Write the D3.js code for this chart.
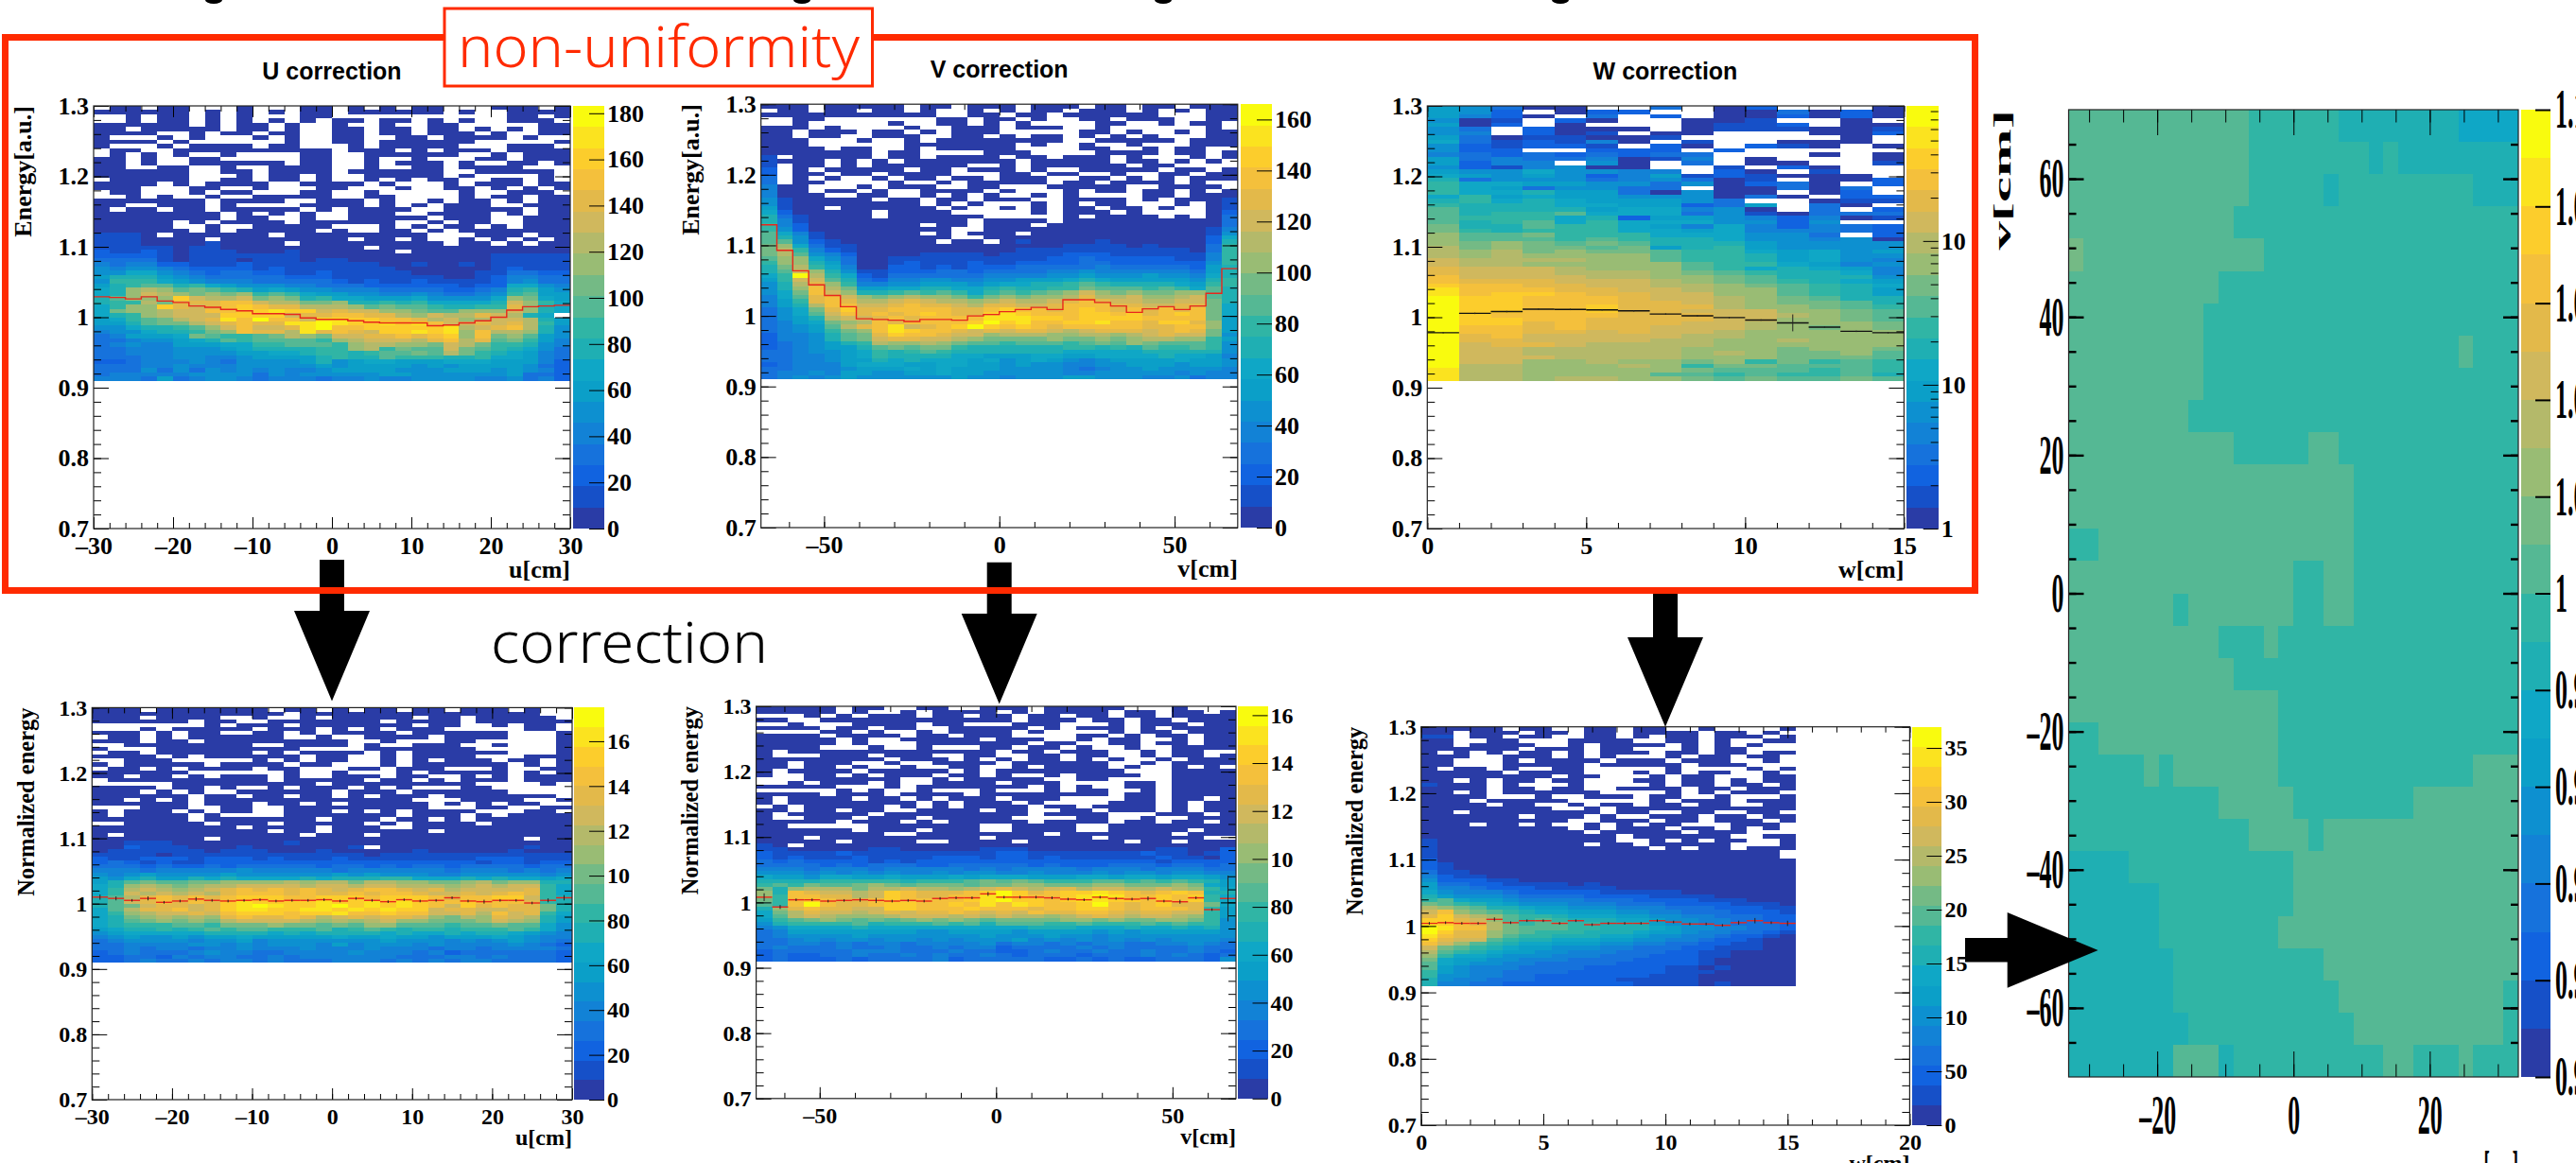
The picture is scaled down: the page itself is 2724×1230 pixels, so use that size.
<!DOCTYPE html>
<html lang="en">
  <head>
    <meta charset="utf-8" />
    <title>Non-uniformity correction</title>
    <script src="https://cdnjs.cloudflare.com/ajax/libs/d3/7.8.5/d3.min.js"></script>
    <style type="text/css">
      html, body { margin: 0; padding: 0; background: #fff; overflow: hidden; }
      svg { display: block; }
      .cell { shape-rendering: crispEdges; }
      .axis line { stroke: #000; }
      .axis text { font-family: "Liberation Serif", serif; font-weight: bold; fill: #000; }
      .axisTitle { font-family: "Liberation Serif", serif; font-weight: bold; fill: #000; }
      .panelTitle { font-family: "Liberation Sans", sans-serif; font-weight: bold; fill: #000; }
      .note { font-family: "Noto Sans", sans-serif; font-weight: 300; }
    </style>
  </head>

  <body>
    <div id="chart"></div>

    <script>
      // Bands of the colour bar, lowest first. Cells below store a band number in base 20, '.' is an empty bin.
      const palette = ['#2a3ca6', '#1650c8', '#1163e0', '#1672dc', '#1282d6', '#0d90d0', '#0b9fc8', '#0fa7c6', '#1fafb3', '#30b5a5',
        '#55b894', '#74ba85', '#99bc74', '#b4b96a', '#d0b85d', '#e3b94a', '#f4c03c', '#fccd2c', '#fbe31f', '#f9fb0e'];

      const uRows = [
        ".00.00...0 ...00.0.0. 00...000.0", "000000.0.0 .0.00.0000 00.0..0000", "..0.00.0.0 ...00..... ......00.0",
        "..0.00.0.0 .0.0.00.00 .0.0..000.", "000000.0.0 0.0..0..0. .00.....00", "00.00000.0 0.0..00.00 .00.0.0.00",
        "0000..0.00 .00..00.00 .000.0..00", "0...0.0... 0.0..00..0 0.0000.0..", "0000.0.... ..0..00.00 0000.....0",
        "0...0.0000 .00...0.00 000...000.", ".00..00000 00000.000. 0.000.0000", ".0.0.0..0. ...00..000 000..0.000",
        "00.0..00.. ...00..0.. 0...00.000", "00.0..0000 00.00..0.0 00.0..00.0", "00..00..0. .0000..0.. 00.0000...",
        "000000..00 .0000.0000 00..00000.", "000000...0 .00.0..000 00.0....0.", ".00000..00 .00.0..0.0 .00..00.0.",
        "0000.0.000 0..0000.0. ..0.000.00", "000...00.. 0...00...0 ..00.0.0.0", ".00...0.00 ...00..0.. ...0..000.",
        "..0.0..0.. 00000..00. ...0.00.00", "0000000.00 00..000.0. .0.00.0.00", "00..000.0. ...0000.0. 0.000..000",
        "0.00.00.00 000.0.0000 ..00000.00", "00000000.0 .0.0..000. .0000.0.00", "00000000.0 0..0..0000 0.000..000",
        "00000.0.00 00.000000. .0.00..000", "00000..0.. 00000...0. 0.00.0.000", "000000.0.0 0000.0..00 .0.0000000",
        "1110.00000 0.00000000 0...000.00", "1110000.00 000000.00. 0..0.0.0.0", "1110000100 00.0000000 00.00.0.00",
        "1111101100 0000000.00 0000000000", "2112101110 001000000. 0000000000", "2222101111 1110000000 0000011111",
        "3333101110 1110110000 0000011111", "4344221112 1111111100 1001011111", "5455432222 1211111110 0000012111",
        "5577543233 2211211111 0000113322", "6888654333 3322211111 1100124433", "5999765444 3333321211 2111124533",
        "689aa89765 5544333222 2221227754", "78cdcaba98 6765544433 3322348965", "78cedcbcbc 9a97665544 5433459a66",
        "8accchedde bcb8977666 755557cb76", "899dbfffgg eddbbc8898 977778ec97", "79cchfefgh gffdddcaba a98899fc87",
        "7bccdeeggh hihhefeecc baacccec87", "789cdeeehh hheffggff dceddfed87", "679abdefig jggeiihhgg fdecdeed86",
        "668abbdefg ffiijihhih igeefefd96", "557889aceg eefijgghhh hhidefgd85", "4557889bcg ffdifgfehh ihicgddc85",
        "346667ba99 abdcbeeffg fghcgbca65", "33455678a9 aaaa9cdeee dfgdfab964", "3454466677 99aaa9cddc cbedb99854",
        "3344455567 888899cd9b aaeba98753", "3344455556 67789989aa badb987643", "3334455445 66668988a9 9988977643",
        "2234445435 5556856776 6677766642", "3334454445 5555656666 5656666532", "3335353545 4544566665 5566656542",
        "3444445555 3545555566 5555556332", "4443634554 3444344544 5555445342"
      ];
      const vRows = [
        "000.00000. 00.000.000 .00.00.000", ".00.00.00. 0..0.0.00. 000.0.0.00", "0000000000 0..00.00.0 00000...00",
        "..00...... .00.00.0.. 00.000..00", "..0.....0. .00.0.0... .00..0.00.", "000.0....0 ..000.000. .0......0.",
        "00.000.00. 0.000..... 00.0..0.00", "00.00..000 ..00.0.00. 0.0.0...00", "000...0..0 .00000000. .00000.000",
        "000......0 000000.0.. 0..0...000", "0000.00..0 .00000.... 00..0.00..", "0000000.00 ....000... .0000.00.0",
        "1.00000.00 .0000.00.0 00.0...0.0", "1000.0.0.0 000000.000 00.00.0.0.", "1.00.0.000 000..0.000 000.00....",
        "2.0.00000. 00.000.0.. 00000.00.0", "2.00.00.00 00...00.00 ..0..00.00", "3.0.0..0.0 0.00.000.. 00.0.0.000",
        "3.00....0. .0.00000.0 0.0000.0..", "400...0.00 0..00...00 000..0000.", "400.00.0.. 0000.0...0 .00.00.0.0",
        "4000..00.. 0.0.0..0.0 ....00.000", "5100000.00 .00.000..0 000.0.0001", "5100000000 .0.0...0.0 .00...0.01",
        "6100.00000 0.0..0.0.0 0.00.0..01", "7200000.00 00.....0.0 00.0....02", "8310000.00 0000.....0 .0000.0.03",
        "8410000000 000.0000.0 0000000003", "9420000000 .00.000.00 0000000003", "9520000000 00..000000 0000000014",
        "a741000000 .0.000.000 0000000015", "a851000000 00..000000 0000000027", "aa52100000 0.00.01000 0100000028",
        "bc73110000 0000000001 1110100039", "bd94210000 0000001111 1111111039", "bda5420000 1111011112 2211111149",
        "acc7530011 1111111122 3222221149", "9cc8630012 1112112222 3322222259", "8bd9740022 1212223333 3433333268",
        "8aec851122 2332333344 5444444368", "79jd972133 3333444455 6555655478", "69eea83244 5544556667 8766666589",
        "58dfc94455 6665677889 a988887699", "58cgdb6677 8877898899 baaa9a97a8", "57bgec889a 9a979a9abc ecbcbbcca8",
        "47afgecbcd ccb9bcbccd fddeccdea8", "469fgfddef eddcdeddef gfeeddeeb8", "468dggeefg ffedffeefg ggffeeffb7",
        "357bfhffgg ggffghggfg hgfgfgfgb7", "357aegfgfg hgffhihggg hhghfghgb7", "3568deefgf ggggiiihhg hhhhggggb6",
        "3467bcdgfg ggghjhiggh higgfhhfc6", "3456adfgie fghjhghgfg ggggffggc6", "34569bcgih ggfefeffed efffefgfb6",
        "24458abfhg gfeecdddcc ddcdefeeb5", "24458abeff eedcbbbbcb bcbcddcc96", "2345689dcc dcbaa9aaa9 abacbaaa95",
        "2345668aba bb98888889 9898a99a95", "3345567989 a988888887 7777888885", "3344567988 8877666776 6777787764",
        "3344566878 7776756765 4566667665", "2344467776 6776656554 4556665665", "3344456667 6766655554 3455655554",
        "3445466556 6766555554 4555554544", "3454565555 5565545556 6555445344"
      ];
      const wRows = [
        "65300 ..3.0 2...0", "652.0 22..0 03020", "6420. 3.2.0 02020", "501.2 0..00 1..0.", "602.0 ...01 12.00",
        "53.20 00.01 11001", "54.20 1.00. ..002", "63011 001.. ...0.", "73121 40.1. .000.", "52122 1.20. 210.0",
        "522.. 222.2 .....", "43232 3233. ..0.0", "63433 4014. 0...0", "6244. 50.3. 00..1", "52145 00..1 .20..",
        "65575 544.2 0.1..", "76565 24612 1000.", "83555 34530 1.002", "97766 55350 230.2", "97635 533.0 0303.",
        "97786 63050 0.02.", "79676 65550 30.22", "89787 66653 ..011", "98887 76623 6.30.", "a8888 67745 0.3.2",
        "a899a 77735 10333", "a9997 82665 42401", "a89a7 97775 525..", "b88a9 97647 42432", "b9899 97767 44432",
        "caab9 99777 553.2", "caaa9 a9887 55450", "cbcba ba888 65555", "dbcbb ab689 65555", "dcdbc bba99 76756",
        "dcdcc cca99 86755", "edddd cca99 86754", "eddcc ccca9 97645", "feeed ccca9 78764", "feeed ddcba 98874",
        "geeee ddccb a8885", "gfffe eedcb a9876", "hggff eeddc ba987", "igggf feedc ca986", "ighhg ffeec ca986",
        "jhhgg gfeed cba88", "jhhgg gffed cbba8", "jhhgg hfffd ccba9", "jhhgg hffee eccba", "jhggg gfffe edcba",
        "jhhgg ffffe eccba", "jhhfg fffee dcccb", "jggfg ffeee dcbcb", "jggff efeed ccccc", "jfgee eeedd ccccc",
        "jffee eeddc cdccc", "jeffe ddddc ccccc", "jeedd dddcc cbccb", "jeedd dddcd cbbca", "jeeed dddcc cbbba",
        "jeecc dccbc 9b9a9", "jddcc cdc9b baaa9", "iddcc cccba aa9a9", "iddcc ccaa9 a99a8", "iddcd dccba baaba"
      ];
      const uNormRows = [
        "000.000000 0.00.0.00. 00.000.0..", "0000000000 00.0000000 00000000..", "000.0000.. 0..0.00000 .00.00000.",
        "000000.00. .0000000.0 000.000000", ".......0.0 00.0000000 .00..0.00.", "...0.00000 .000.0.0.0 00.....00.",
        "000.0.00.. 00.0.0000. 000000...0", ".00.0.0000 00..0..000 0.0000...0", "000.00.000 000000..0. ..00.....0",
        "..00000000 ..0000.0.. 000..0...0", "0...000000 000....000 0000.....0", ".00.000000 .0.0000.0. 000000...0",
        "0000.0.000 000.00..0. 0000...000", "..000..... 0.0.00..0. 0.000.00.0", "0.00000.00 00.00...0. 000000.0.0",
        ".00.0.0000 .00...00.0 00...0..00", "000000.... ..0..0...0 .00000.0.0", "00.00.0.00 0.0..000.0 0..0.0.000",
        ".000000000 0.00000.00 .0.000.000", ".....00000 0000.00000 0000....0.", "0000.00.0. .0.000.0.0 ...00.....",
        "000.0.0..0 00000.000. 000000....", "000000.00. 00.00.0.00 0.0000000.", "00.0.0.000 0000000000 ...0000..0",
        "000000.000 .00.0.0000 0.0.0.00..", "...000..00 ..00000000 0...00..00", "0.000.0.00 ..000.0.0. 0000...00.",
        "0.0000.0.. ..0000000. 000.0.0000", "000000.000 0000.000.0 0.0.000000", "..00000.00 0.00000.0. 0000.00000",
        "000000000. 0000.000.. 0000000000", "0000000000 0.00.00000 0.00000000", "0.00000000 000.000.00 0000000000",
        "0000000.00 0000000000 0000000.00", "0011100000 0010000000 0000000000", "0021110001 0000001.00 0000000100",
        "0111111011 1000100000 1000001000", "1111011111 1111111011 1111111111", "2112221222 1211121111 1111222111",
        "2321211222 2222222222 2222122122", "3332322323 3333233232 3323333233", "4443444445 4444434444 4434443434",
        "5456555565 5555565655 5445555545", "6578668787 7778788899 7778787767", "68abaabbcc ccdcddbddc cbbcdbcc88",
        "78cdcbcdde eeedeedeed ddcdedee97", "79dedcdefg fgfgfefggf efdeeeef97", "79edededfg ggfgffgfgg feefefgf97",
        "8adfgfgfgh hhgghhhghh hgfgghhe98", "8aefgfgfhi hhhhihhihi hgghgggf98", "8abeffefhi jihhijhihi hgehfgffb8",
        "7adffgefhi ihhiihihih heffeeffb8", "79cdeefegh hhghhigghg geefdgef97", "78bcdcdcfg ffgfdefeff ecbdcfed86",
        "78abcbcbde eeedcdcdec cbbbcedc86", "78999aa9bb bcbbabacca aa9aabaa75", "6788989a9a a999a89a98 998999a975",
        "5677777888 8787888878 7787887654", "4565565667 6666676676 6566676544", "3455554556 4555555565 5545456543",
        "3344445545 4555464555 4544445432", "3343443445 4445444544 4344344443", "2343334544 3344445444 3423333332",
        "2233243443 3434444443 3344343332", "2234334344 3433344434 3434433332"
      ];
      const vNormRows = [
        "00000.00.. 00..000.00 000...0...", "00000.0..0 .0000.0.00 00.00.00.0", "...0.0.000 .00.00.00. 00.00.0000",
        "00..000000 000000.000 .00.00.000", "..0...0000 .00...000. ..0.000.00", "0000.00.00 ..00000.0. 000.0.0000",
        "....00.0.. 0.0000.0.. ..0.00.000", "0000.0000. 00.000.... 00.0.00.00", "00000.0..0 0000.000.. 0.00..0.00",
        "00000.0... 0000000.00 ..00.00.00", "0000...0.. 0...00.00. 0..0..0000", "0.00000000 00000.00.0 00..0.00..",
        "0...000.00 0..00..00. 00..0.00.0", "00000000.0 00.0.0.00. 0.0..0.000", "00.000..0. .0000.0000 00..0.0000",
        "00.00.0..0 ..00..0.00 00.0..0.0.", "0.0000.000 00.0.00000 000...0000", "0..00.0.00 0.00.0..0. 0000..0000",
        "...000000. .0.00000.. 00....0000", "..0.000.0. .0000.000. ...00.0000", "00000...0. 0000000.0. 0..00.0000",
        ".....0.0.. 0...0...0. 00..0.0000", "0000.000.0 000.000000 00.00.0000", "0.0000.00. 0.000.000. ...00.00.0",
        "0.00000000 .0.000.0.. ..000.0.00", ".0.00000.0 .0.0000.00 .0000.0.00", "00.00.00.. 0000.00..0 0.000.0.00",
        "0.00000.00 0000000.00 00...000.0", "0..000.000 .00000.... 00..0..000", "00000.000. 0.00000.00 00.00.00.0",
        "00.....000 0000..0000 ..00000000", "000000.000 .000..0000 ..00000.00", "00000000.. 00000000.0 000000.000",
        "000.000000 0000.00000 0.000000..", "00000.0000 ..0000.000 000.00.000", "10.0000000 0000000000 0000000000",
        "1100000110 0000111000 0000011002", "2111121111 1111122111 1111211012", "2121112111 1222122121 1111121102",
        "3232222121 2222222222 2222212222", "3333232333 2233333232 2233323323", "4443444344 4443434444 3444344433",
        "5554545454 4545544544 4545545544", "7665776676 6676777666 7767767765", "8888999998 999ababa99 9aa9a9a986",
        "9a9baabcba bbbabbccbb bccbbbcb76", "b8cdddbdde ddcdefedef deeddedc97", "c8gfeedehg fffghjhfgh hihgfghg88",
        "c9ggffdehg ffggijhggh ijigghgh97", "b9ghgffghg ggghijhhgh iihhghgh97", "a9gjgffghh gghgigihgg hjgfghffb7",
        "8cfgffeehh ggghgggfgg hhgfgggf96", "7bdfeedefe ffgfefegff ggfeffee96", "7adedcccde eedededdcd efedeedc96",
        "69abcbabab cbcbabbbbc cbcbbccb95", "589999a899 9a9a8aaa99 a999a9a995", "4577778777 7777777888 7778778785",
        "3466666666 5566665666 6565666665", "3455556555 5555655565 5455555555", "3345455455 4545556454 5454545554",
        "3344343443 4444534434 3443344543", "3433343343 3434423333 4343333433", "2333334443 3343322343 3433433432",
        "2322334334 3433432333 2333434323", "2322232333 3423333322 3232233325"
      ];
      const wNormRows = [
        "00000.00.. 00.00..0.. ..0", "00.000.00. 00.0000.00 .0.", "11.00.00.. 00.0.00.00 0.0", "00..00...0 000..00.0. .00",
        "00.0000..0 .0000.0.0. 0..", "000000.000 .00...0.00 ...", "0.0.0.00.0 .000.00.00 .00", "000..000.0 .0...0.00. 00.",
        "00...0.000 0.000.000. .0.", "00...00000 .00000.000 ...", "0.00.0..00 .....0.... 0.0", "00000.0000 ...0.0.00. .0.",
        "00000000.0 0...0.00.. .00", "00.0.00.00 ...00.00.0 .00", "1000.0...0 ....0.00.0 0.0", "0000.00.00 ..0000.00. 000",
        "00.0.00000 0....0.0.0 00.", "0000...0.. 000.00..0. ..0", "000.00000. ....0.000. 000", "0000.00..0 .00.00.00. .00",
        "00000000.. 0.00000000 000", "00.0000000 0.00..00.. 00.", "000000.000 .0..000.00 .00", "000000000. .000.00.00 0.0",
        "000.00.0.. 0.0.00...0 00.", "000000000. 0.000.00.0 .0.", "0000000000 .00000.000 ...", "0000000000 00.000000. .00",
        "1000000000 00..0.0.00 ..0", "1000000000 .00.00000. ..0", "1000000000 0000.0.00. 000", "1000000000 0000000000 00.",
        "1000000000 0000000000 00.", "2000000000 0000000000 000", "2100000000 0000000000 000", "2100000000 0000000000 000",
        "3110000000 0000000000 000", "4211000000 0000000000 000", "5222110000 0000000000 000", "6332211110 1000000000 000",
        "6443222111 1100000000 000", "7544432222 2111110000 000", "8655543333 2222111100 000", "9a76654444 3332222111 000",
        "ba98765554 4433322221 110", "dcba887665 5544433322 211", "egcba98776 6655443332 221", "fhedca9987 7766554433 322",
        "hhfeca9a98 8877655443 322", "ihgfdb9aa9 9888655443 332", "jiggdbaaa9 9888765544 332", "jhffcba999 8887665443 321",
        "igffca9988 8776554432 210", "hfeea98877 7665544322 100", "geca987766 6554433221 100", "eba9876655 5443332211 100",
        "da98766554 4433322110 000", "c977655544 4333222110 000", "b766554443 3332222100 000", "a765544333 3322222100 000",
        "a654443333 2222211010 000", "9654433332 2222211100 000", "9554433222 2222111000 000", "8544333222 2211111000 000",
        "8443322222 2221111010 000"
      ];
      const mapRows = [
        "aaaaaaaaaaaa 999999 88888888 7777", "aaaaaaaaaaaa 99999999 8 9 88888888", "aaaaaaaaaaaa 99999 8 999999999 888",
        "aaaaaaaaaaa 9999999999999999999", "b aaaaaaaaaaaa 99999999999999999", "aaaaaaaaaa 99999999999999999999",
        "aaaaaaaaa 999999999999999999999", "aaaaaaaaa 99999999999999999 a 999", "aaaaaaaaa 999999999999999999999",
        "aaaaaaaa 9999999999999999999999", "aaaaaaaaaaa 99999 aa 999999999999", "aaaaaaaaaaaaaaaaaaa 99999999999",
        "aaaaaaaaaaaaaaaaaaa 99999999999", "99 aaaaaaaaaaaaaaaaa 99999999999", "aaaaaaaaaaaaaaa 99 aa 99999999999",
        "aaaaaaa 9 aaaaaaa 99 aa 99999999999", "aaaaaaaaaa 999 a 9999999999999999", "aaaaaaaaaaa 9999999999999999999",
        "aaaaaaaaaaaaaa 9999999999999999", "99 aaaaaaaaaaaa 9999999999999999", "99999 a 9 aaaaaaa 9999999999999 aaa",
        "9999999999 aaaaa 99999999 aaaaaaa", "999999999999 aaaa 9 aaaaaaaaaaaaa", "8888 99999999999 aaaaaaaaaaaaaaa",
        "888888 999999999 aaaaaaaaaaaaaaa", "888888 99999999 aaaaaaaaaaaaaaaa", "8888888 9999999999 aaaaaaaaaaaaa",
        "8888888 99999999999 aaaaaaaaaaa 9", "88888888 99999999999 aaaaaaaaaa 9", "8888888 aaa 8 9999999999 aa 999 a 999"
      ];

      // Mean energy in each bin.
      const uProfile = [1.029, 1.028, 1.026, 1.029, 1.023, 1.021, 1.016, 1.014, 1.011, 1.009, 1.005, 1.005, 1.004, 0.999, 0.997, 0.997, 0.995, 0.993, 0.992, 0.992, 0.992, 0.988, 0.989, 0.992, 0.995, 1.000, 1.010, 1.015, 1.016, 1.017];
      const vProfile = [1.129, 1.093, 1.064, 1.044, 1.029, 1.013, 0.996, 0.995, 0.994, 0.992, 0.995, 0.995, 0.994, 1.000, 1.002, 1.006, 1.009, 1.012, 1.009, 1.023, 1.023, 1.019, 1.014, 1.005, 1.010, 1.013, 1.009, 1.014, 1.032, 1.067];
      const wProfile = [0.978, 1.0055, 1.008, 1.0115, 1.011, 1.0105, 1.009, 1.0045, 1.002, 0.9995, 0.996, 0.992, 0.986, 0.980, 0.978];
      const wErrors = [0.001, 0.001, 0.001, 0.001, 0.001, 0.001, 0.001, 0.001, 0.001, 0.001, 0.001, 0.012, 0.001, 0.001, 0.001];
      const uNormProfile = [1.010, 1.008, 1.005, 1.008, 1.002, 1.004, 1.007, 1.005, 1.004, 1.005, 1.006, 1.004, 1.005, 1.005, 1.006, 1.004, 1.008, 1.005, 1.003, 1.006, 1.004, 1.005, 1.009, 1.004, 1.003, 1.005, 1.005, 1.001, 1.005, 1.009];
      const uNormErrors = [0.004, 0.003, 0.002, 0.003, 0.002, 0.002, 0.003, 0.002, 0.002, 0.002, 0.002, 0.002, 0.002, 0.002, 0.002, 0.002, 0.002, 0.002, 0.002, 0.002, 0.002, 0.002, 0.002, 0.002, 0.003, 0.002, 0.002, 0.002, 0.003, 0.004];
      const vNormProfile = [1.008, 0.993, 1.004, 1.004, 1.002, 1.003, 1.004, 1.003, 1.002, 1.003, 1.002, 1.006, 1.007, 1.007, 1.013, 1.008, 1.008, 1.008, 1.007, 1.005, 1.004, 1.008, 1.006, 1.005, 1.006, 1.002, 1.001, 1.007, 0.989, 1.006];
      const vNormErrors = [0.006, 0.003, 0.002, 0.002, 0.002, 0.002, 0.003, 0.004, 0.002, 0.002, 0.002, 0.002, 0.002, 0.002, 0.003, 0.002, 0.002, 0.002, 0.002, 0.002, 0.002, 0.002, 0.002, 0.002, 0.003, 0.002, 0.003, 0.002, 0.002, 0.035];
      const wNormProfile = [1.004, 1.005, 1.004, 1.004, 1.010, 1.005, 1.008, 1.008, 1.004, 1.008, 1.002, 1.004, 1.004, 1.004, 1.008, 1.006, 1.003, 1.003, 1.001, 1.005, 1.008, 1.005, 1.004];
      const wNormErrors = [0.002, 0.002, 0.002, 0.002, 0.003, 0.002, 0.002, 0.002, 0.002, 0.002, 0.002, 0.002, 0.002, 0.002, 0.002, 0.002, 0.002, 0.002, 0.002, 0.003, 0.004, 0.002, 0.004];

      // Tick labels. The lower bars lost their decimals and exponents in the original, so labels are listed by hand.
      const energyTicks = [0.7, 0.8, 0.9, 1, 1.1, 1.2, 1.3];
      const energyMinor = d3.range(35, 66).map(d => d * 0.02);
      const uTicks = [-30, -20, -10, 0, 10, 20, 30];
      const uMinor = d3.range(-30, 31, 2);
      const vTicks = [-50, 0, 50];
      const vMinor = d3.range(-60, 61, 10);
      const wTicks = [0, 5, 10, 15];
      const wMinor = d3.range(0, 16, 1);
      const wNormTicks = [0, 5, 10, 15, 20];
      const wNormMinor = d3.range(0, 21, 1);
      const uBarTicks = d3.range(0, 181, 20);
      const vBarTicks = d3.range(0, 161, 20);
      const wBarTicks = [1, 10, 100];
      const wBarLabels = ['1', '10', '10'];
      const wBarMinor = [2, 3, 4, 5, 6, 7, 8, 9, 20, 30, 40, 50, 60, 70, 80, 90, 200, 300, 400, 500, 600, 700, 800];
      const normBarTicks = d3.range(0, 17, 2);
      const normBarLabels = ['0', '20', '40', '60', '80', '10', '12', '14', '16'];
      const wNormBarTicks = d3.range(0, 36, 5);
      const wNormBarLabels = ['0', '50', '10', '15', '20', '25', '30', '35'];
      const mapXTicks = [-20, 0, 20];
      const mapXMinor = d3.range(-30, 31, 5);
      const mapYTicks = [-60, -40, -20, 0, 20, 40, 60];
      const mapYMinor = d3.range(-65, 66, 5);
      const mapBarTicks = [0.9, 0.92, 0.94, 0.96, 0.98, 1, 1.02, 1.04, 1.06, 1.08, 1.1];

      const minusFormat = d => String(d).replace('-', '\u2013');
      const energyFormat = d => String(d);

      const svg = d3.select('#chart').append('svg')
        .attr('width', 2724)
        .attr('height', 1230);

      // Inward ticks on all four sides of a plot, major and minor.
      function drawFrame (g, x, y, o) {
        const box = { l: x.range()[0], r: x.range()[1], b: y.range()[0], t: y.range()[1] };
        const sides = [
          { axis: d3.axisBottom(x), at: [0, box.b], len: o.xLen, major: o.xTicks, minor: o.xMinor, label: o.xFormat },
          { axis: d3.axisTop(x), at: [0, box.t], len: o.xLen, major: o.xTicks, minor: o.xMinor },
          { axis: d3.axisLeft(y), at: [box.l, 0], len: o.yLen, major: o.yTicks, minor: o.yMinor, label: o.yFormat },
          { axis: d3.axisRight(y), at: [box.r, 0], len: o.yLen, major: o.yTicks, minor: o.yMinor }
        ];
        sides.forEach((s, i) => {
          const isY = i > 1;
          const width = isY ? (o.yStroke || 1) : 1;
          g.append('g').attr('class', 'axis').attr('transform', `translate(${s.at})`)
            .call(s.axis.tickValues(s.minor).tickSize(-s.len / 2).tickFormat(''))
            .call(a => a.select('.domain').remove())
            .selectAll('line').attr('stroke-width', width);
          const major = g.append('g').attr('class', 'axis labels').attr('transform', `translate(${s.at})`)
            .call(s.axis.tickValues(s.major).tickSize(-s.len).tickPadding(isY ? 5 : o.xPad).tickFormat(s.label || ''))
            .attr('font-family', null).attr('font-size', o.fontSize);
          major.select('.domain').remove();
          major.selectAll('line').attr('stroke-width', width);
        });
        g.append('rect')
          .attr('x', box.l).attr('y', box.t)
          .attr('width', box.r - box.l).attr('height', box.b - box.t)
          .attr('fill', 'none').attr('stroke', '#222').attr('stroke-width', o.frameWidth || 1.2);
      }

      // Heat map cells from the band strings.
      function drawCells (g, rows, x, y, xStart, xBin, yStart, yBin) {
        const color = d3.scaleOrdinal(d3.range(20), palette);
        const cells = [];
        rows.forEach((row, i) => {
          Array.from(row.replace(/ /g, '')).forEach((ch, j) => {
            if (ch !== '.') cells.push({ i, j, level: parseInt(ch, 20) });
          });
        });
        g.append('g').selectAll('rect').data(cells).join('rect')
          .attr('class', 'cell')
          .attr('x', d => x(xStart + d.j * xBin))
          .attr('width', d => x(xStart + (d.j + 1) * xBin) - x(xStart + d.j * xBin))
          .attr('y', d => y(yStart - d.i * yBin))
          .attr('height', d => y(yStart - (d.i + 1) * yBin) - y(yStart - d.i * yBin))
          .attr('fill', d => color(d.level));
      }

      // Colour bar: twenty equal bands plus ticks on its right edge.
      function drawBar (g, box, scale, major, format, minor, fontSize) {
        const bands = d3.scaleBand().domain(d3.range(19, -1, -1)).range([box.top, box.bottom]);
        g.append('g').selectAll('rect').data(bands.domain()).join('rect')
          .attr('class', 'cell')
          .attr('x', box.barLeft).attr('width', box.barRight - box.barLeft)
          .attr('y', d => bands(d)).attr('height', bands.bandwidth())
          .attr('fill', d => palette[d]);
        if (minor) {
          g.append('g').attr('class', 'axis').attr('transform', `translate(${box.barRight},0)`)
            .call(d3.axisRight(scale).tickValues(minor).tickSize(-8).tickFormat(''))
            .call(a => a.select('.domain').remove());
        }
        const axis = g.append('g').attr('class', 'axis labels').attr('transform', `translate(${box.barRight},0)`)
          .call(d3.axisRight(scale).tickValues(major).tickSize(-16).tickPadding(3).tickFormat(format))
          .attr('font-family', null).attr('font-size', fontSize);
        axis.select('.domain').remove();
        return axis;
      }

      function energyPanel (o) {
        const g = svg.append('g');
        const x = d3.scaleLinear().domain(o.xDomain).range([o.box.left, o.box.right]);
        const y = d3.scaleLinear().domain([0.7, 1.3]).range([o.box.bottom, o.box.top]);
        drawCells(g, o.rows, x, y, o.xDomain[0], o.xBin, 1.3, 0.006);

        if (o.errors) {
          // Profile with separate bin segments and black error bars.
          const marks = g.append('g').selectAll('g').data(o.profile).join('g');
          const left = (d, i) => x(o.xDomain[0] + i * o.xBin);
          const right = (d, i) => x(o.xDomain[0] + (i + 1) * o.xBin);
          marks.append('line')
            .attr('x1', left).attr('x2', right)
            .attr('y1', d => y(d)).attr('y2', d => y(d))
            .attr('stroke', o.lineColor).attr('stroke-width', 1.4);
          marks.append('line')
            .attr('x1', (d, i) => (left(d, i) + right(d, i)) / 2).attr('x2', (d, i) => (left(d, i) + right(d, i)) / 2)
            .attr('y1', (d, i) => y(d + o.errors[i])).attr('y2', (d, i) => y(d - o.errors[i]))
            .attr('stroke', '#222').attr('stroke-width', 1);
        } else {
          const steps = o.profile.map((d, i) => [o.xDomain[0] + i * o.xBin, d]);
          steps.push([o.xDomain[1], o.profile[o.profile.length - 1]]);
          g.append('path')
            .datum(steps)
            .attr('fill', 'none').attr('stroke', o.lineColor).attr('stroke-width', 1.4)
            .attr('d', d3.line().curve(d3.curveStepAfter).x(d => x(d[0])).y(d => y(d[1])));
        }

        drawFrame(g, x, y, {
          xTicks: o.xTicks, xMinor: o.xMinor, xFormat: minusFormat, xLen: o.xLen,
          yTicks: energyTicks, yMinor: energyMinor, yFormat: energyFormat, yLen: 16,
          xPad: 9, fontSize: o.fontSize
        });

        const bar = o.barScale.range([o.box.bottom, o.box.top]);
        drawBar(g, o.box, bar, o.barTicks, o.barFormat, o.barMinor, o.fontSize);

        g.append('text').attr('class', 'axisTitle')
          .attr('text-anchor', 'end')
          .attr('x', o.box.right).attr('y', o.xTitleY)
          .attr('font-size', o.fontSize)
          .text(o.xTitle);
        g.append('text').attr('class', 'axisTitle')
          .attr('text-anchor', 'end')
          .attr('transform', `translate(${o.yTitleX},${o.box.top}) rotate(-90)`)
          .attr('font-size', o.yTitleSize)
          .text(o.yTitle);
        if (o.title) {
          g.append('text').attr('class', 'panelTitle')
            .attr('text-anchor', 'middle')
            .attr('x', o.titleX).attr('y', o.titleY)
            .attr('font-size', 25)
            .text(o.title);
        }
      }

      const energyLabel = 'Energy[a.u.]';
      const normLabel = 'Normalized energy';
      const sameLabel = d => String(d);

      energyPanel({
        box: { left: 99, right: 603, top: 112, bottom: 559, barLeft: 606, barRight: 639 },
        rows: uRows, xDomain: [-30, 30], xBin: 2, profile: uProfile, lineColor: '#e8261c',
        xTicks: uTicks, xMinor: uMinor, xLen: 12, fontSize: 26,
        barScale: d3.scaleLinear().domain([0, 183.2]), barTicks: uBarTicks, barFormat: sameLabel,
        xTitle: 'u[cm]', xTitleY: 611, yTitle: energyLabel, yTitleX: 33, yTitleSize: 26,
        title: 'U correction', titleX: 351, titleY: 84
      });
      energyPanel({
        box: { left: 804.7, right: 1308.8, top: 110.2, bottom: 558, barLeft: 1311.6, barRight: 1345 },
        rows: vRows, xDomain: [-68, 68], xBin: 136 / 30, profile: vProfile, lineColor: '#e8261c',
        xTicks: vTicks, xMinor: vMinor, xLen: 12, fontSize: 26,
        barScale: d3.scaleLinear().domain([0, 166]), barTicks: vBarTicks, barFormat: sameLabel,
        xTitle: 'v[cm]', xTitleY: 610, yTitle: energyLabel, yTitleX: 739, yTitleSize: 26,
        title: 'V correction', titleX: 1056.7, titleY: 82
      });
      energyPanel({
        box: { left: 1509.3, right: 2013.4, top: 112, bottom: 559, barLeft: 2016, barRight: 2049.7 },
        rows: wRows, xDomain: [0, 15], xBin: 1, profile: wProfile, errors: wErrors, lineColor: '#111',
        xTicks: wTicks, xMinor: wMinor, xLen: 12, fontSize: 26,
        barScale: d3.scaleLog().domain([1, 870]), barTicks: wBarTicks,
        barFormat: (d, i) => wBarLabels[i], barMinor: wBarMinor,
        xTitle: 'w[cm]', xTitleY: 611, title: 'W correction', titleX: 1761, titleY: 84
      });
      energyPanel({
        box: { left: 97.3, right: 605, top: 748.4, bottom: 1163, barLeft: 607.4, barRight: 639 },
        rows: uNormRows, xDomain: [-30, 30], xBin: 2, profile: uNormProfile, errors: uNormErrors, lineColor: '#e8261c',
        xTicks: uTicks, xMinor: uMinor, xLen: 12, fontSize: 24,
        barScale: d3.scaleLinear().domain([0, 17.5]), barTicks: normBarTicks,
        barFormat: (d, i) => normBarLabels[i],
        xTitle: 'u[cm]', xTitleY: 1211, yTitle: normLabel, yTitleX: 36, yTitleSize: 24.5
      });
      energyPanel({
        box: { left: 799.6, right: 1307, top: 747, bottom: 1161.8, barLeft: 1308.8, barRight: 1340.5 },
        rows: vNormRows, xDomain: [-68, 68], xBin: 136 / 30, profile: vNormProfile, errors: vNormErrors, lineColor: '#e8261c',
        xTicks: vTicks, xMinor: vMinor, xLen: 12, fontSize: 24,
        barScale: d3.scaleLinear().domain([0, 16.37]), barTicks: normBarTicks,
        barFormat: (d, i) => normBarLabels[i],
        xTitle: 'v[cm]', xTitleY: 1210, yTitle: normLabel, yTitleX: 738, yTitleSize: 24.5
      });
      energyPanel({
        box: { left: 1502.8, right: 2019.4, top: 768.7, bottom: 1190, barLeft: 2022, barRight: 2053.4 },
        rows: wNormRows, xDomain: [0, 20], xBin: 2 / 3, profile: wNormProfile, errors: wNormErrors, lineColor: '#e8261c',
        xTicks: wNormTicks, xMinor: wNormMinor, xLen: 12, fontSize: 24,
        barScale: d3.scaleLinear().domain([0, 36.96]), barTicks: wNormBarTicks,
        barFormat: (d, i) => wNormBarLabels[i],
        xTitle: 'w[cm]', xTitleY: 1238, yTitle: normLabel, yTitleX: 1441, yTitleSize: 24.5
      });

      // Two-dimensional map on the right, drawn stretched in the original.
      function mapPanel () {
        const g = svg.append('g');
        const box = { left: 2187.5, right: 2663, top: 116, bottom: 1139, barLeft: 2666, barRight: 2697 };
        const x = d3.scaleLinear().domain([-33, 33]).range([box.left, box.right]);
        const y = d3.scaleLinear().domain([-70, 70]).range([box.bottom, box.top]);
        drawCells(g, mapRows, x, y, -33, 2.2, 70, 140 / 30);

        drawFrame(g, x, y, {
          xTicks: mapXTicks, xMinor: mapXMinor, xFormat: minusFormat, xLen: 27,
          yTicks: mapYTicks, yMinor: mapYMinor, yFormat: minusFormat, yLen: 16,
          yStroke: 2.4, xPad: 18, fontSize: 59
        });

        // Squeeze tick labels the way the stretched picture does.
        g.selectAll('.labels').each(function () {
          d3.select(this).selectAll('text').each(function () {
            const t = d3.select(this);
            const horizontal = t.attr('x') !== null;
            if (horizontal) {
              const px = +t.attr('x');
              t.attr('x', 0).attr('transform', `translate(${px},0) scale(0.44,1)`);
            } else {
              t.attr('transform', 'scale(0.44,1)');
            }
          });
        });

        const bar = d3.scaleLinear().domain([0.9, 1.1]).range([box.bottom, box.top]);
        const axis = drawBar(g, box, bar, mapBarTicks, sameLabel, null, 59);
        axis.selectAll('line').attr('stroke-width', 2);
        axis.selectAll('text').attr('x', 0).attr('text-anchor', 'start')
          .attr('transform', 'translate(5,0) scale(0.44,1)');

        g.append('text').attr('class', 'axisTitle')
          .attr('text-anchor', 'end')
          .attr('transform', `translate(2126,${box.top}) rotate(-90) scale(2.34,1)`)
          .attr('font-size', 26)
          .text('v[cm]');
        g.append('text').attr('class', 'axisTitle')
          .attr('text-anchor', 'end')
          .attr('transform', `translate(${box.right},1258) scale(0.75,2.34)`)
          .attr('font-size', 25)
          .text('u[cm]');
      }
      mapPanel();

      // Block arrows between the panels.
      const arrowLine = d3.line();
      function downArrow (cx, halfShaft, halfHead, top, neck, tip) {
        return arrowLine([[cx - halfShaft, top], [cx + halfShaft, top], [cx + halfShaft, neck], [cx + halfHead, neck],
          [cx, tip], [cx - halfHead, neck], [cx - halfShaft, neck]]) + 'Z';
      }
      const annot = svg.append('g');
      annot.append('path').attr('d', downArrow(351, 13, 40, 592, 646, 741.6));
      annot.append('path').attr('d', downArrow(1056.7, 13, 40, 594.7, 649, 744.6));
      annot.append('path').attr('d', downArrow(1761, 13, 40, 622, 674, 768.7));
      annot.append('path').attr('d', arrowLine([[2078, 992], [2122.7, 992], [2122.7, 965], [2218.6, 1005], [2122.7, 1044.7], [2122.7, 1017.4], [2078, 1017.4]]) + 'Z');

      // Descenders of the slide heading, which is cut off by the top edge.
      annot.selectAll('ellipse').data([226, 848, 1230, 1650]).join('ellipse')
        .attr('cx', d => d).attr('cy', 0).attr('rx', 9).attr('ry', 4).attr('fill', '#000');

      annot.append('rect')
        .attr('x', 5.5).attr('y', 39.5).attr('width', 2083).attr('height', 585)
        .attr('fill', 'none').attr('stroke', '#ff2a00').attr('stroke-width', 7);
      annot.append('rect')
        .attr('x', 470).attr('y', 9).attr('width', 452.5).attr('height', 82)
        .attr('fill', '#fff').attr('stroke', '#ff2a00').attr('stroke-width', 3);
      annot.append('text').attr('class', 'note')
        .attr('x', 484).attr('y', 71).attr('font-size', 60)
        .attr('textLength', 425).attr('lengthAdjust', 'spacingAndGlyphs')
        .attr('fill', '#ff2a00')
        .text('non-uniformity');
      annot.append('text').attr('class', 'note')
        .attr('x', 519).attr('y', 701).attr('font-size', 60)
        .attr('textLength', 293).attr('lengthAdjust', 'spacingAndGlyphs')
        .attr('fill', '#000')
        .text('correction');
    </script>
  </body>
</html>
